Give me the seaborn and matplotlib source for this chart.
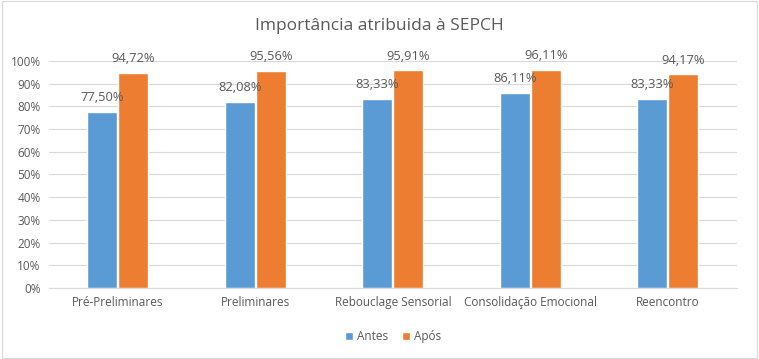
import pandas as pd
import matplotlib.pyplot as plt
import seaborn as sns
from matplotlib.ticker import FuncFormatter

categorias = ["Pré-Preliminares", "Preliminares", "Rebouclage Sensorial",
              "Consolidação Emocional", "Reencontro"]
antes = [77.50, 82.08, 83.33, 86.11, 83.33]
apos = [94.72, 95.56, 95.91, 96.11, 94.17]

df = pd.DataFrame({
    "fase": categorias * 2,
    "valor": antes + apos,
    "momento": ["Antes"] * 5 + ["Após"] * 5,
})

sns.set_style("white")
plt.rcParams['font.family'] = ['Open Sans', 'DejaVu Sans']
txt = "#595959"

fig = plt.figure(figsize=(7.59, 3.59), dpi=100)
ax = fig.add_axes([0.0646, 0.198, 0.906, 0.632])

sns.barplot(data=df, x="fase", y="valor", hue="momento",
            palette=["#5B9BD5", "#ED7D31"], width=0.45, gap=0.03,
            saturation=1, ax=ax, legend=True)

for cont in ax.containers:
    ax.bar_label(cont, labels=[f"{v:.2f}%".replace(".", ",") for v in cont.datavalues],
                 padding=5.5, fontsize=9.3, color=txt)

ax.set_ylim(0, 100)
ax.set_yticks(range(0, 101, 10))
ax.yaxis.set_major_formatter(FuncFormatter(lambda v, p: f"{int(v)}%"))
ax.grid(axis="y", color="#D9D9D9", linewidth=0.8)
ax.set_axisbelow(True)
for s in ["top", "right", "left"]:
    ax.spines[s].set_visible(False)
ax.spines["bottom"].set_color("#D9D9D9")
ax.tick_params(axis="both", length=0, labelsize=8.5, colors=txt, pad=6)
ax.set_xlabel("")
ax.set_ylabel("")
fig.suptitle("Importância atribuida à SEPCH", fontsize=12.5, color=txt, x=0.5, y=0.95)

ax.legend(loc="upper center", bbox_to_anchor=(0.5, -0.14), ncol=2, frameon=False,
          fontsize=8.5, labelcolor=txt, handlelength=0.7, handleheight=0.7,
          handletextpad=0.3, columnspacing=1.2)

fig.patches.append(plt.Rectangle((0.002, 0.003), 0.995, 0.994, transform=fig.transFigure,
                                 fill=False, edgecolor="#D9D9D9", linewidth=0.8))
fig.savefig("out.png", dpi=100)
